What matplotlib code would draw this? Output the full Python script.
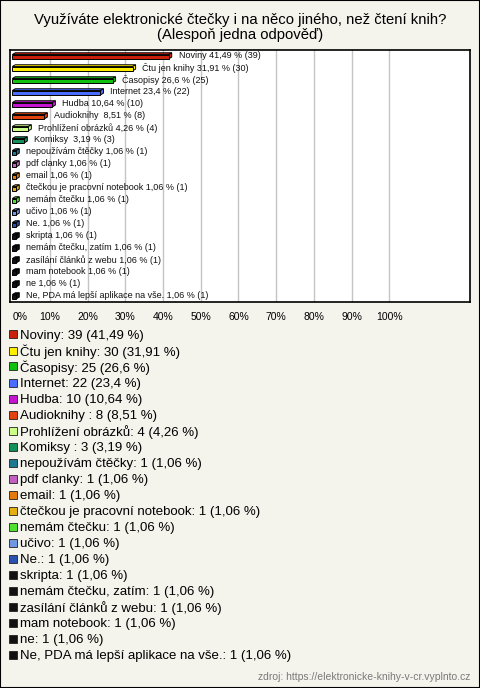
import matplotlib.pyplot as plt
from matplotlib.patches import Polygon, Rectangle

plt.rcParams['font.family'] = ['Liberation Sans', 'DejaVu Sans']

# data
names = ["Noviny", "Čtu jen knihy", "Časopisy", "Internet", "Hudba", "Audioknihy ",
         "Prohlížení obrázků", "Komiksy ", "nepoužívám čtěčky", "pdf clanky", "email",
         "čtečkou je pracovní notebook", "nemám čtečku", "učivo", "Ne.", "skripta",
         "nemám čtečku, zatím", "zasílání článků z webu", "mam notebook", "ne",
         "Ne, PDA má lepší aplikace na vše."]
counts = [39, 30, 25, 22, 10, 8, 4, 3, 1, 1, 1, 1, 1, 1, 1, 1, 1, 1, 1, 1, 1]
pcts = [41.49, 31.91, 26.6, 23.4, 10.64, 8.51, 4.26, 3.19] + [1.06] * 13
colors = ["#c8200a", "#ffee00", "#10c010", "#4a6cff", "#c414d0", "#e2420e",
          "#ccff88", "#12905a", "#1e7890", "#c060c0", "#e27a10", "#e4b010",
          "#50e030", "#7098e0", "#2a50b0"] + ["#111111"] * 6
ticks = list(range(0, 101, 10))

def fmt(v):
    return f"{v:g}".replace(".", ",")

bg = "#f4f3ec"
fig = plt.figure(figsize=(4.8, 6.88), dpi=100, facecolor=bg)
fig.patches.append(Rectangle((0, 0), 1, 1, transform=fig.transFigure, fill=False,
                             edgecolor="black", linewidth=1.5))

ax = fig.add_axes([10 / 480, 1 - 302 / 688, 460 / 480, 252 / 688])
ax.set_facecolor("white")
ax.set_xlim(-0.6, 121.4)
ax.set_ylim(len(names) - 0.5, -0.5)

for t in ticks[1:]:
    ax.axvline(t, color="#c4c4c4", linewidth=1, zorder=0)

dx, dz = 0.8, 0.15
for i, (v, c) in enumerate(zip(pcts, colors)):
    top, bot = i - 0.12, i + 0.24
    ax.add_patch(Polygon([(0, top), (v, top), (v + dx, top - dz), (dx, top - dz)],
                         closed=True, facecolor=c, edgecolor="black", linewidth=0.7, zorder=2))
    ax.add_patch(Polygon([(v, top), (v + dx, top - dz), (v + dx, bot - dz), (v, bot)],
                         closed=True, facecolor=c, edgecolor="black", linewidth=0.7, zorder=2))
    ax.barh(i + 0.06, v, height=0.36, left=0, color=c, edgecolor="black",
            linewidth=0.7, zorder=3)
    ax.text(v + 2.6, i, f"{names[i]} {fmt(v)} % ({counts[i]})", fontsize=6.5,
            va="center", ha="left", color="#111111")

ax.set_xticks(ticks)
labels = ax.set_xticklabels([f"{t}%" for t in ticks], fontsize=7.5)
labels[0].set_horizontalalignment("left")
ax.tick_params(axis="x", length=0, pad=7)
ax.set_yticks([])
for s in ax.spines.values():
    s.set_linewidth(1.2)

fig.text(0.5, 1 - 20 / 688, "Využíváte elektronické čtečky i na něco jiného, než čtení knih?",
         ha="center", va="center", fontsize=10.7)
fig.text(0.5, 1 - 35 / 688, "(Alespoň jedna odpověď)", ha="center", va="center", fontsize=10.7)

# legend
for i, (n, k, p, c) in enumerate(zip(names, counts, pcts, colors)):
    y = 1 - (336 + i * 16) / 688
    fig.patches.append(Rectangle((9 / 480, y - 2.5 / 688), 8 / 480, 8 / 688,
                                 transform=fig.transFigure, facecolor=c,
                                 edgecolor="#222222", linewidth=0.6))
    fig.text(20 / 480, y, f"{n}: {k} ({fmt(p)} %)", ha="left", va="center", fontsize=9.5)

fig.text(470 / 480, 1 - 677 / 688, "zdroj: https://elektronicke-knihy-v-cr.vyplnto.cz",
         ha="right", va="center", fontsize=7.5, color="#7a7a7a")

fig.savefig("out.png", dpi=100, facecolor=bg)
